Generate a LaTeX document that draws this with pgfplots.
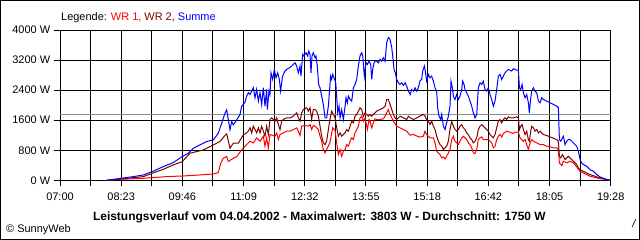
\documentclass[border=0pt]{standalone}
\usepackage{fontspec}
\setmainfont{Liberation Sans}
\usepackage{pgfplots}
\pgfplotsset{compat=1.18}
\definecolor{wrone}{RGB}{255,0,0}
\definecolor{wrtwo}{RGB}{128,0,0}
\definecolor{summe}{RGB}{0,0,255}
\definecolor{avg}{RGB}{140,140,140}
\begin{document}
\fontsize{11pt}{13pt}\selectfont
\begin{tikzpicture}
\useasboundingbox (0,0) rectangle (640bp,240bp);
\draw[line width=1bp] (0.5bp,0.5bp) rectangle (639.5bp,239.5bp);
\begin{axis}[at={(60bp,59.7bp)}, anchor=south west, width=550.7bp, height=150.3bp, scale only axis,
  xmin=420, xmax=1168, ymin=0, ymax=4000, clip=false,
  tick pos=left, tick align=outside, major tick length=6bp,
  every tick/.style={black, line width=1bp},
  grid=major, major grid style={black, line width=1bp},
  axis line style={black, line width=1bp},
  xtick={420,461.56,503.11,544.67,586.22,627.78,669.33,710.89,752.44,794,835.56,877.11,918.67,960.22,1001.78,1043.33,1084.89,1126.44,1168},
  xticklabels={07:00,,08:23,,09:46,,11:09,,12:32,,13:55,,15:18,,16:42,,18:05,,19:28},
  ytick={0,800,1600,2400,3200,4000},
  yticklabels={0 W,800 W,1600 W,2400 W,3200 W,4000 W},
  tick label style={font=\fontsize{11pt}{13pt}\selectfont},
  xticklabel style={yshift=-2.5bp},
]
\addplot[avg, line width=1bp] coordinates {(420,1750) (1168,1750)};
\addplot[wrone, line width=1bp] coordinates {
(483.4,0) (502.8,27) (533.2,53) (545.4,71) (564.9,98) (587.5,116) (610.1,142) (628.3,169) (635.0,204) (638.2,453) (641.8,587) (646.4,631) (648.6,498) (653.2,560) (660.0,631) (666.7,809) (673.5,951) (678.1,1040) (682.6,996) (687.1,1129) (691.7,1040) (696.2,1173) (698.4,907) (700.7,1129) (703.0,862) (705.2,1218) (709.8,1191) (712.0,1173) (714.3,1262) (716.6,1084) (718.8,1218) (723.3,1262) (727.9,1307) (732.4,1307) (736.9,1351) (741.5,1396) (743.7,1307) (746.0,1191) (748.3,1440) (752.8,1458) (757.3,1440) (759.6,1484) (761.8,1351) (764.1,1458) (766.4,1440) (768.6,1396) (770.9,1351) (773.2,1173) (775.4,1040) (777.7,818) (780.0,729) (782.2,818) (786.7,1000) (790.4,1400) (793.6,1330) (795.8,996) (798.1,684) (800.4,818) (802.6,640) (804.9,773) (807.2,818) (809.4,951) (811.7,907) (814.0,1040) (816.2,1129) (818.5,1084) (820.7,1262) (823.0,1351) (825.3,1440) (827.5,1662) (829.8,1707) (832.1,1573) (834.3,1662) (835.7,1529) (837.5,1351) (839.8,1618) (841.1,1573) (843.4,1396) (845.6,1529) (847.9,1636) (850.2,1618) (854.7,1618) (859.2,1636) (861.5,1707) (863.8,1796) (866.0,1884) (868.3,1751) (870.6,1662) (872.8,1573) (877.3,1440) (881.9,1396) (886.4,1351) (890.9,1307) (895.5,1200) (900.0,1220) (904.5,1180) (909.0,1150) (913.5,1173) (915.8,1307) (918.0,1218) (920.3,1173) (922.6,1129) (927.1,1129) (929.4,996) (931.6,773) (933.9,729) (936.2,684) (938.4,596) (940.7,622) (942.9,569) (945.2,640) (947.5,729) (949.7,818) (952.0,1084) (954.3,1173) (956.5,1040) (958.8,996) (961.1,951) (963.3,1040) (965.6,1129) (967.8,1173) (970.1,1129) (972.4,1084) (974.6,996) (976.9,951) (979.2,862) (981.4,729) (983.7,711) (986.0,818) (988.2,1084) (990.5,1129) (992.8,1156) (995.0,1084) (1001.8,1084) (1004.1,1040) (1006.3,996) (1008.6,862) (1010.9,907) (1013.1,1084) (1015.4,1173) (1017.7,1218) (1020.0,1150) (1022.2,1244) (1026.7,1307) (1031.2,1280) (1035.0,1250) (1038.1,1280) (1042.6,1280) (1044.9,1129) (1047.1,1084) (1049.4,1040) (1051.7,1084) (1053.9,951) (1056.2,818) (1058.5,996) (1060.7,1084) (1063.0,1040) (1067.5,996) (1072.0,951) (1076.6,951) (1081.1,907) (1085.6,889) (1090.1,862) (1094.7,862) (1096.9,818) (1098.3,462) (1101.5,391) (1103.7,507) (1108.3,462) (1112.8,507) (1117.3,462) (1121.8,356) (1126.4,240) (1130.9,196) (1135.4,151) (1140.0,107) (1144.5,89) (1149.0,62) (1153.5,44) (1158.1,36) (1162.6,18) (1167.1,0)
};
\addplot[wrtwo, line width=1bp] coordinates {
(483.4,0) (502.8,36) (519.6,71) (533.2,98) (545.4,187) (560.3,293) (573.9,409) (586.1,498) (596.6,720) (605.6,764) (614.7,809) (628.3,942) (632.8,987) (637.3,1031) (642.7,1164) (646.4,1236) (650.9,853) (655.4,987) (662.2,987) (669.0,1209) (673.5,1262) (675.8,1307) (678.1,1396) (680.3,1262) (682.6,1440) (684.9,1351) (687.1,1262) (689.4,1396) (691.7,1262) (693.9,1440) (696.2,1307) (698.4,1173) (700.7,1440) (703.0,1218) (705.2,1618) (707.5,1662) (709.8,1618) (712.0,1573) (714.3,1662) (716.6,1484) (718.8,1351) (721.1,1573) (723.3,1618) (727.9,1662) (732.4,1662) (736.9,1707) (739.2,1751) (741.5,1796) (743.7,1662) (746.0,1573) (748.3,1796) (750.5,1884) (755.0,1929) (757.3,1840) (759.6,1929) (761.8,1618) (764.1,1884) (766.4,1884) (768.6,1840) (770.9,1707) (773.2,1440) (775.4,1173) (777.7,996) (780.0,951) (782.2,1040) (784.5,1351) (786.7,1618) (789.0,1840) (791.3,1751) (793.6,1662) (795.8,1396) (798.1,1173) (800.4,1262) (802.6,1173) (804.9,1218) (807.2,1262) (809.4,1351) (811.7,1307) (814.0,1440) (816.2,1573) (818.5,1529) (820.7,1707) (823.0,1751) (825.3,1840) (827.5,1929) (829.8,1884) (832.1,1707) (834.3,1796) (836.6,1751) (838.9,1707) (841.1,1751) (843.4,1707) (845.6,1751) (850.2,1840) (854.7,1884) (859.2,1929) (861.5,1973) (863.8,2151) (866.0,2151) (868.3,2018) (870.6,1884) (872.8,1751) (875.1,1662) (877.3,1618) (881.9,1707) (886.4,1662) (890.9,1618) (893.2,1707) (895.5,1662) (900.0,1618) (904.5,1662) (909.0,1707) (913.5,1751) (915.8,1707) (918.0,1618) (920.3,1573) (922.6,1484) (924.8,1573) (927.1,1440) (929.4,1351) (931.6,1173) (933.9,1040) (936.2,951) (938.4,907) (940.7,818) (942.9,862) (945.2,907) (947.5,1040) (949.7,1351) (952.0,1573) (954.3,1440) (956.5,1351) (958.8,1307) (961.1,1351) (963.3,1440) (965.6,1484) (967.8,1396) (970.1,1351) (972.4,1262) (974.6,1218) (976.9,1129) (979.2,1084) (981.4,996) (983.7,1040) (986.0,1129) (988.2,1351) (990.5,1440) (992.8,1484) (995.0,1440) (997.3,1396) (999.5,1351) (1001.8,1307) (1004.1,1218) (1006.3,1173) (1008.6,1129) (1010.9,1218) (1013.1,1396) (1015.4,1573) (1017.7,1618) (1019.9,1529) (1022.2,1618) (1024.5,1662) (1026.7,1618) (1029.0,1689) (1031.2,1662) (1035.8,1662) (1040.3,1689) (1042.6,1662) (1044.0,1351) (1045.8,1440) (1047.6,1484) (1049.4,1351) (1051.7,1218) (1053.9,1307) (1056.2,1084) (1057.5,1040) (1059.4,1307) (1060.7,1440) (1063.0,1396) (1065.2,1307) (1067.5,1351) (1069.8,1262) (1072.0,1307) (1076.6,1218) (1081.1,1191) (1085.6,1156) (1090.1,1120) (1094.7,1084) (1096.9,1040) (1098.3,640) (1100.1,596) (1102.4,684) (1103.7,640) (1106.0,551) (1108.3,596) (1110.5,640) (1112.8,596) (1115.1,551) (1117.3,507) (1121.8,418) (1124.1,329) (1126.4,284) (1130.9,240) (1135.4,196) (1140.0,151) (1144.5,124) (1149.0,89) (1153.5,62) (1158.1,44) (1162.6,18) (1167.1,0)
};
\addplot[summe, line width=1bp] coordinates {
(483.4,0) (502.8,53) (519.6,98) (533.2,142) (545.4,231) (560.3,364) (573.9,471) (586.1,631) (594.3,720) (601.1,853) (610.1,942) (619.2,1031) (628.3,1076) (635.0,1253) (639.6,1520) (644.1,1787) (646.4,1876) (650.9,1342) (653.2,1564) (655.4,1476) (660.0,1609) (664.5,1751) (666.7,1973) (669.0,2018) (671.3,2080) (673.5,2240) (675.8,2329) (678.1,2284) (680.3,2373) (682.6,2462) (684.9,2196) (687.1,2418) (689.4,2107) (691.7,2329) (693.9,2018) (696.2,2462) (698.4,1973) (700.7,2418) (701.6,1884) (703.9,2373) (705.2,2284) (706.6,2862) (708.9,2684) (711.1,2951) (713.4,2729) (715.7,2862) (717.9,2684) (719.7,2373) (722.0,2729) (723.3,2818) (725.6,2907) (727.9,2951) (731.5,2996) (734.7,3040) (736.9,3085) (739.2,3129) (741.5,3040) (743.7,2862) (746.0,3040) (747.3,2773) (749.6,3351) (751.4,3307) (754.1,3396) (756.4,3307) (757.8,3440) (759.6,3351) (760.9,2862) (762.3,3307) (764.1,3396) (766.4,3262) (767.7,3307) (769.5,3040) (771.3,2551) (773.2,2462) (775.4,2240) (777.7,2018) (780.0,1662) (782.2,1662) (784.5,1973) (786.7,2551) (787.5,2773) (789.0,2684) (790.4,2818) (792.2,2729) (794.5,2596) (795.8,2240) (797.2,1796) (799.0,1973) (800.4,1662) (802.6,1884) (804.9,1618) (807.2,1973) (808.5,2196) (810.3,2062) (811.7,2240) (814.0,2151) (816.2,2107) (818.5,2462) (820.7,2551) (823.0,2684) (825.3,3040) (827.5,3307) (829.8,3396) (831.2,3307) (833.4,2773) (835.7,3129) (837.5,3085) (839.8,3173) (842.0,3085) (843.4,2684) (844.7,2951) (846.6,3129) (847.9,3173) (850.2,3173) (852.4,3129) (854.7,3218) (857.0,3173) (859.2,3262) (861.5,3173) (863.8,3662) (866.0,3803) (868.3,3751) (870.6,3529) (871.9,3307) (873.7,2951) (875.5,2862) (877.3,2684) (879.6,2596) (881.9,2551) (884.1,2596) (886.4,2524) (888.7,2596) (890.9,2507) (893.2,2373) (895.5,2284) (897.7,2418) (900.0,2373) (902.3,2462) (904.5,2373) (906.8,2462) (909.0,2650) (911.2,2684) (912.6,2907) (914.9,3040) (916.2,2907) (918.0,2640) (920.3,2818) (922.6,2729) (924.8,2773) (927.1,2640) (929.4,2462) (931.6,2373) (933.0,1929) (934.8,1707) (937.1,1618) (938.4,1751) (940.7,1440) (942.9,1351) (945.2,1529) (947.5,1707) (949.7,1973) (951.1,2640) (952.9,2462) (954.3,2240) (956.5,2151) (958.8,2284) (961.1,2151) (963.3,2240) (965.6,2418) (966.9,2640) (968.8,2551) (970.1,2418) (972.4,2329) (974.6,2240) (976.9,2107) (979.2,1973) (981.4,1796) (983.7,1662) (986.0,1751) (988.2,2462) (990.5,2596) (992.8,2551) (995.0,2640) (997.3,2418) (999.5,2373) (1001.8,2462) (1004.1,2284) (1006.3,2151) (1008.6,1973) (1010.9,2107) (1013.1,2418) (1015.4,2773) (1017.7,2818) (1019.9,2684) (1022.2,2773) (1024.5,2862) (1026.7,2907) (1029.0,2951) (1031.2,2930) (1033.5,2907) (1035.8,2969) (1040.3,2933) (1042.6,2933) (1044.0,2462) (1045.8,2418) (1047.6,2551) (1049.4,2329) (1051.7,2196) (1053.9,2284) (1056.2,2062) (1057.5,1796) (1059.4,2196) (1060.7,2373) (1063.0,2462) (1065.2,2373) (1067.5,2329) (1069.8,2107) (1072.0,2062) (1074.3,2196) (1076.6,2151) (1081.1,2107) (1085.6,2062) (1090.1,2018) (1094.7,1973) (1096.9,1929) (1098.3,1084) (1100.1,1040) (1102.4,1129) (1103.7,1173) (1106.0,951) (1108.3,1040) (1110.5,1084) (1112.8,1084) (1115.1,1040) (1117.3,996) (1121.8,907) (1124.1,773) (1126.4,551) (1128.6,462) (1130.9,418) (1135.4,373) (1140.0,284) (1144.5,240) (1149.0,151) (1153.5,89) (1158.1,53) (1162.6,18) (1167.1,0)
};
\end{axis}
\node[anchor=base west, inner sep=0pt] at (61bp,219.3bp) {Legende: \textcolor{wrone}{WR 1,} \textcolor{wrtwo}{WR 2,} \textcolor{summe}{Summe}};
\node[anchor=base, inner sep=0pt, font=\fontsize{12pt}{14pt}\selectfont\bfseries] at (319.4bp,19.3bp) {Leistungsverlauf vom 04.04.2002 - Maximalwert: 3803 W - Durchschnitt: 1750 W};
\node[anchor=base west, inner sep=0pt] at (6bp,7.3bp) {© SunnyWeb};
\node[anchor=base, inner sep=0pt, font=\itshape] at (634bp,13bp) {/};
\end{tikzpicture}
\end{document}
